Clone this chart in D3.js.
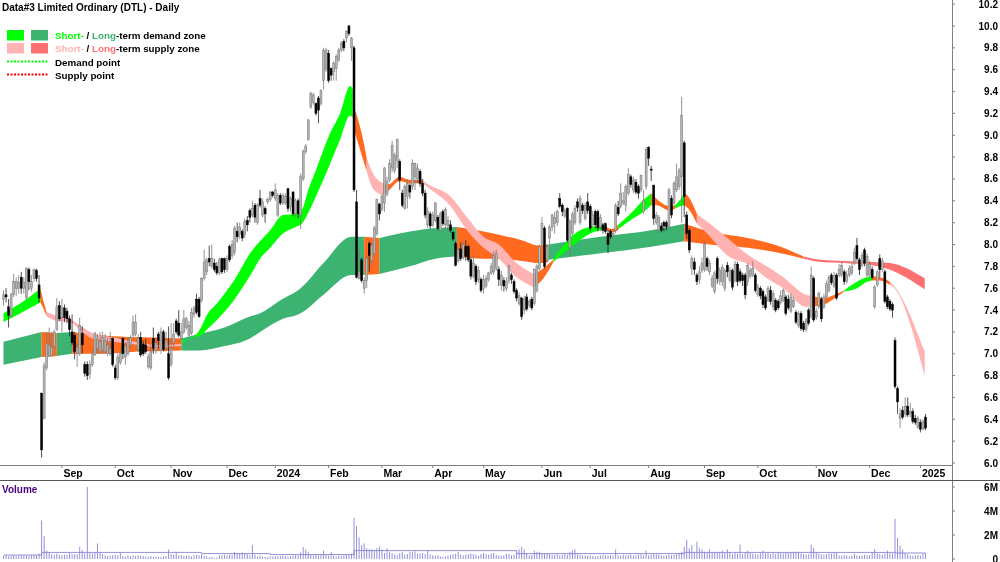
<!DOCTYPE html>
<html>
<head>
<meta charset="utf-8">
<script src="https://cdnjs.cloudflare.com/ajax/libs/d3/7.8.5/d3.min.js"></script>
<style>
html,body{margin:0;padding:0;background:#fff}
svg{display:block;filter:blur(.35px)}
text{font-family:"Liberation Sans",Arial,sans-serif;font-weight:bold;font-size:10px;fill:#000}
.months text{font-size:10.5px}
.legend text{font-size:9.8px}
</style>
</head>
<body>
<svg id="c" width="1000" height="562"></svg>
<script>
const titleText = "Data#3 Limited Ordinary (DTL) - Daily";
const priceTicks = [6.0,6.2,6.4,6.6,6.8,7.0,7.2,7.4,7.6,7.8,8.0,8.2,8.4,8.6,8.8,9.0,9.2,9.4,9.6,9.8,10.0,10.2];
const volumeTicks = [0,2,4,6];
const volumeTickLabels = ["0","2M","4M","6M"];
const monthLabels = ["Sep","Oct","Nov","Dec","2024","Feb","Mar","Apr","May","Jun","Jul","Aug","Sep","Oct","Nov","Dec","2025"];
const monthBars = [23,44,66,88,107,128,149,169,189,212,231,254,276,297,320,341,361];

const opens = [
7.50,7.54,7.43,7.35,7.54,7.60,7.60,7.70,7.60,7.51,
7.77,7.60,7.69,7.76,7.63,6.64,6.41,6.87,6.98,6.98,
7.07,7.22,7.44,7.33,7.42,7.39,7.32,7.20,7.17,7.00,
7.00,7.19,6.90,6.90,6.82,6.90,6.99,7.05,7.02,7.03,
7.02,7.00,7.00,7.14,6.87,6.78,6.92,7.14,6.97,7.00,
7.08,7.17,7.18,7.04,7.15,7.09,7.08,6.88,6.87,7.14,
7.03,7.18,7.03,7.20,7.05,7.00,6.90,7.10,7.30,7.28,
7.14,7.20,7.24,7.17,7.19,7.36,7.50,7.50,7.49,7.69,
7.75,7.87,7.80,7.83,7.80,7.74,7.87,7.87,7.77,7.98,
7.90,7.93,8.12,8.09,8.12,8.09,8.22,8.31,8.27,8.36,
8.20,8.42,8.27,8.33,8.39,8.41,8.48,8.42,8.27,8.45,
8.38,8.38,8.51,8.35,8.48,8.28,8.40,8.27,8.60,8.85,
8.96,9.26,9.30,9.29,9.34,9.29,9.50,9.60,9.75,9.61,
9.58,9.61,9.69,9.78,9.86,9.89,10.0,9.80,9.80,8.39,
7.69,7.86,7.60,7.67,8.01,7.85,7.92,8.10,8.37,8.32,
8.38,8.46,8.59,8.70,8.68,8.77,8.76,8.47,8.33,8.44,
8.54,8.53,8.62,8.60,8.67,8.56,8.47,8.18,8.28,8.18,
8.22,8.25,8.13,8.30,8.18,8.17,8.18,8.11,8.01,7.85,
7.96,7.88,7.98,7.98,7.86,7.71,7.80,7.68,7.68,7.60,
7.62,7.68,7.74,7.75,7.78,7.77,7.63,7.67,7.60,7.67,
7.72,7.66,7.58,7.46,7.51,7.40,7.52,7.44,7.50,7.46,
7.58,7.78,8.00,8.15,7.86,8.06,8.16,8.19,8.20,8.42,
8.36,8.26,8.33,7.97,8.10,8.20,8.39,8.20,8.36,8.24,
8.39,8.35,8.18,8.30,8.30,8.16,8.18,8.19,8.10,8.12,
8.08,8.13,8.34,8.35,8.38,8.36,8.47,8.62,8.50,8.57,
8.53,8.50,8.30,8.53,8.89,8.69,8.54,8.20,8.13,8.17,
8.20,8.20,8.16,8.42,8.38,8.50,8.53,8.62,8.93,8.27,
8.13,7.78,7.84,7.72,7.68,7.76,7.77,7.87,7.75,7.62,
7.57,7.87,7.66,7.66,7.60,7.81,7.67,7.76,7.67,7.82,
7.75,7.72,7.72,7.66,7.71,7.72,7.72,7.54,7.60,7.57,
7.52,7.49,7.58,7.43,7.49,7.48,7.47,7.49,7.52,7.50,
7.39,7.43,7.38,7.26,7.37,7.28,7.22,7.40,7.34,7.69,
7.33,7.43,7.50,7.43,7.52,7.58,7.72,7.62,7.72,7.72,
7.72,7.75,7.66,7.72,7.74,7.83,7.99,7.86,7.81,7.95,
7.72,7.72,7.77,7.43,7.63,7.87,7.77,7.75,7.52,7.48,
7.45,7.12,6.68,6.41,6.48,6.45,6.52,6.45,6.47,6.41,
6.33,6.37,6.31,6.42];

const highs = [
7.58,7.60,7.50,7.56,7.73,7.70,7.72,7.75,7.70,7.79,
7.79,7.72,7.78,7.78,7.72,6.64,6.92,7.20,7.24,7.20,
7.22,7.51,7.48,7.50,7.45,7.42,7.35,7.36,7.20,7.10,
7.33,7.25,6.93,6.93,6.94,7.04,7.20,7.18,7.20,7.20,
7.18,7.15,7.20,7.15,6.90,7.00,7.05,7.15,7.10,7.15,
7.17,7.35,7.36,7.18,7.20,7.12,7.14,7.00,7.10,7.24,
7.15,7.20,7.24,7.22,7.20,7.25,7.28,7.28,7.32,7.40,
7.28,7.40,7.34,7.30,7.42,7.44,7.55,7.52,7.70,7.95,
7.88,7.99,8.00,7.87,7.84,7.88,7.88,7.88,7.90,8.00,
8.04,8.17,8.20,8.20,8.14,8.24,8.26,8.33,8.40,8.38,
8.38,8.50,8.42,8.35,8.43,8.49,8.49,8.56,8.47,8.47,
8.47,8.47,8.52,8.44,8.49,8.42,8.42,8.65,8.87,8.92,
9.15,9.40,9.39,9.30,9.36,9.42,9.80,9.80,9.78,9.62,
9.68,9.74,9.80,9.86,9.88,9.96,10.01,9.90,9.82,8.50,
7.95,7.88,7.70,7.90,8.03,8.02,8.17,8.42,8.38,8.46,
8.71,8.62,8.78,8.95,8.84,8.97,8.78,8.50,8.55,8.60,
8.56,8.78,8.75,8.74,8.69,8.60,8.50,8.34,8.30,8.30,
8.39,8.27,8.30,8.32,8.34,8.26,8.22,8.12,8.03,7.98,
8.02,8.02,8.04,8.00,7.88,7.90,7.82,7.80,7.70,7.72,
7.72,7.75,7.83,7.94,7.95,7.80,7.76,7.70,7.70,7.82,
7.74,7.68,7.60,7.56,7.52,7.53,7.55,7.50,7.52,7.78,
7.82,8.00,8.25,8.17,8.00,8.18,8.28,8.30,8.32,8.47,
8.38,8.33,8.34,8.23,8.30,8.36,8.42,8.45,8.38,8.38,
8.47,8.37,8.31,8.32,8.32,8.28,8.20,8.20,8.13,8.14,
8.13,8.38,8.40,8.56,8.48,8.55,8.70,8.64,8.62,8.60,
8.55,8.64,8.50,8.89,8.90,8.72,8.55,8.30,8.27,8.20,
8.22,8.22,8.52,8.45,8.58,8.74,8.70,9.35,8.95,8.30,
8.15,7.90,7.88,7.74,7.80,7.88,8.03,7.89,7.86,7.72,
7.76,7.89,7.79,7.82,7.78,7.84,7.79,7.78,7.85,7.84,
7.78,7.74,7.74,7.83,7.79,7.85,7.74,7.64,7.62,7.59,
7.54,7.62,7.62,7.58,7.51,7.50,7.58,7.60,7.54,7.54,
7.55,7.52,7.40,7.39,7.39,7.30,7.33,7.42,7.80,7.71,
7.42,7.57,7.52,7.55,7.67,7.72,7.74,7.75,7.74,7.82,
7.84,7.77,7.76,7.81,7.83,7.97,8.06,7.88,7.93,7.97,
7.92,7.85,7.80,7.63,7.77,7.91,7.88,7.77,7.54,7.50,
7.47,7.15,6.70,6.50,6.52,6.60,6.60,6.55,6.50,6.44,
6.43,6.40,6.40,6.45];

const lows = [
7.44,7.47,7.24,7.33,7.52,7.53,7.55,7.55,7.55,7.49,
7.58,7.57,7.66,7.66,7.47,6.05,6.40,6.85,6.97,6.97,
7.05,7.21,7.30,7.20,7.29,7.28,7.16,7.08,6.95,6.88,
6.98,7.00,6.79,6.76,6.77,6.88,6.98,7.00,7.00,7.00,
7.00,6.98,6.98,6.88,6.76,6.76,6.90,6.95,6.90,6.98,
7.05,7.15,7.16,7.02,6.97,6.98,7.00,6.86,6.85,7.00,
7.00,7.05,7.00,7.02,7.02,6.76,6.88,7.05,7.18,7.15,
7.12,7.18,7.22,7.15,7.17,7.33,7.36,7.33,7.47,7.67,
7.72,7.80,7.78,7.75,7.72,7.72,7.73,7.74,7.75,7.84,
7.87,7.90,8.02,8.05,8.03,8.06,8.12,8.20,8.25,8.20,
8.18,8.34,8.25,8.20,8.37,8.39,8.43,8.40,8.25,8.36,
8.36,8.36,8.30,8.30,8.26,8.25,8.24,8.14,8.58,8.83,
8.95,9.24,9.28,9.18,9.11,9.27,9.42,9.58,9.48,9.50,
9.50,9.50,9.67,9.76,9.77,9.85,9.91,9.68,8.48,7.69,
7.68,7.65,7.55,7.60,7.75,7.80,7.90,8.08,8.22,8.30,
8.30,8.44,8.57,8.66,8.65,8.70,8.50,8.34,8.32,8.33,
8.42,8.50,8.50,8.56,8.53,8.44,8.24,8.15,8.14,8.16,
8.20,8.13,8.12,8.17,8.14,8.12,8.11,8.03,7.80,7.83,
7.85,7.86,7.85,7.84,7.68,7.69,7.63,7.65,7.56,7.55,
7.60,7.66,7.72,7.72,7.76,7.62,7.58,7.57,7.57,7.64,
7.64,7.55,7.48,7.44,7.31,7.36,7.39,7.42,7.40,7.44,
7.56,7.76,7.98,7.78,7.84,8.00,8.12,8.10,8.17,8.33,
8.26,8.24,8.02,7.89,8.08,8.18,8.30,8.18,8.28,8.22,
8.28,8.12,8.16,8.15,8.12,8.12,8.10,8.10,7.92,8.05,
8.06,8.10,8.26,8.33,8.36,8.30,8.45,8.52,8.47,8.46,
8.42,8.48,8.28,8.50,8.72,8.58,8.18,8.18,8.11,8.11,
8.12,8.13,8.14,8.24,8.36,8.48,8.50,8.20,8.25,8.05,
7.92,7.72,7.72,7.63,7.64,7.74,7.75,7.76,7.72,7.60,
7.55,7.64,7.63,7.62,7.57,7.70,7.65,7.58,7.65,7.62,
7.65,7.62,7.50,7.62,7.69,7.70,7.56,7.52,7.50,7.42,
7.40,7.47,7.45,7.40,7.38,7.40,7.45,7.47,7.35,7.40,
7.37,7.42,7.27,7.24,7.21,7.20,7.20,7.26,7.32,7.29,
7.31,7.41,7.29,7.41,7.50,7.56,7.63,7.60,7.49,7.70,
7.70,7.63,7.64,7.70,7.72,7.81,7.85,7.72,7.79,7.80,
7.70,7.70,7.68,7.41,7.61,7.70,7.75,7.46,7.41,7.39,
7.33,6.68,6.45,6.32,6.40,6.42,6.42,6.42,6.36,6.35,
6.31,6.28,6.30,6.30];

const closes = [
7.54,7.52,7.35,7.54,7.66,7.66,7.65,7.60,7.65,7.78,
7.66,7.66,7.77,7.69,7.51,6.12,6.89,7.09,7.08,7.06,
7.20,7.43,7.32,7.42,7.33,7.32,7.22,7.10,7.02,7.06,
7.26,7.08,6.82,6.80,6.90,6.99,7.19,7.13,7.11,7.15,
7.12,7.08,7.05,6.90,6.78,6.97,7.00,7.00,7.07,7.10,
7.15,7.29,7.29,7.14,6.99,7.00,7.02,6.97,7.03,7.05,
7.10,7.12,7.20,7.04,7.12,6.78,7.05,7.18,7.20,7.17,
7.20,7.32,7.32,7.26,7.38,7.42,7.38,7.34,7.69,7.84,
7.86,7.84,7.87,7.77,7.74,7.86,7.75,7.77,7.87,7.86,
8.00,8.15,8.07,8.16,8.06,8.21,8.18,8.25,8.33,8.25,
8.36,8.36,8.39,8.28,8.41,8.48,8.45,8.50,8.45,8.38,
8.45,8.44,8.33,8.42,8.28,8.40,8.28,8.62,8.85,8.90,
9.14,9.38,9.37,9.20,9.23,9.41,9.78,9.78,9.50,9.55,
9.66,9.72,9.78,9.84,9.80,9.95,9.93,9.89,8.50,7.70,
7.75,7.67,7.67,7.87,7.90,7.99,8.15,8.41,8.28,8.44,
8.70,8.58,8.74,8.91,8.82,8.96,8.59,8.36,8.53,8.56,
8.48,8.74,8.74,8.70,8.56,8.47,8.27,8.30,8.17,8.27,
8.38,8.15,8.28,8.19,8.32,8.22,8.13,8.05,7.81,7.95,
7.87,8.00,7.89,7.86,7.71,7.83,7.66,7.76,7.58,7.68,
7.69,7.74,7.80,7.90,7.92,7.68,7.72,7.62,7.66,7.80,
7.68,7.57,7.51,7.53,7.34,7.50,7.41,7.48,7.42,7.77,
7.80,7.98,8.19,7.80,7.98,8.16,8.27,8.25,8.30,8.35,
8.30,8.31,8.04,8.21,8.28,8.33,8.34,8.42,8.31,8.36,
8.31,8.15,8.27,8.18,8.15,8.25,8.13,8.12,8.00,8.07,
8.10,8.36,8.28,8.47,8.40,8.53,8.64,8.55,8.59,8.48,
8.47,8.63,8.40,8.87,8.79,8.68,8.24,8.27,8.25,8.13,
8.17,8.16,8.50,8.27,8.56,8.62,8.68,9.18,8.44,8.10,
7.95,7.87,7.77,7.66,7.75,7.83,8.00,7.80,7.83,7.69,
7.74,7.69,7.76,7.79,7.76,7.75,7.76,7.61,7.82,7.66,
7.67,7.67,7.54,7.81,7.76,7.78,7.58,7.61,7.53,7.45,
7.42,7.60,7.48,7.55,7.40,7.42,7.53,7.58,7.37,7.42,
7.52,7.49,7.29,7.37,7.23,7.22,7.31,7.28,7.72,7.31,
7.39,7.55,7.32,7.52,7.64,7.70,7.65,7.72,7.51,7.77,
7.81,7.66,7.72,7.78,7.80,7.93,7.87,7.77,7.90,7.83,
7.89,7.82,7.70,7.61,7.75,7.77,7.85,7.48,7.43,7.41,
7.40,6.70,6.56,6.45,6.42,6.52,6.44,6.47,6.38,6.37,
6.41,6.31,6.38,6.32];

const volumes = [
0.25,0.30,0.22,0.28,0.30,0.24,0.26,0.33,0.28,0.30,
0.26,0.35,0.30,0.32,0.45,3.20,1.90,0.70,0.50,0.40,
0.35,0.45,0.35,0.30,0.35,0.35,0.55,0.42,0.40,0.40,
1.00,0.75,0.45,6.00,0.50,0.45,0.55,1.30,0.55,0.40,
0.30,0.25,0.30,0.32,0.35,0.30,0.50,0.25,0.18,0.30,
0.22,0.30,0.25,0.32,0.28,0.25,0.22,0.20,0.25,0.18,
0.22,0.20,0.18,0.22,0.25,0.80,0.40,0.35,0.60,0.30,
0.32,0.25,0.28,0.30,0.22,0.30,0.35,0.32,0.40,0.25,
0.22,0.15,0.18,0.10,0.12,0.30,0.32,0.35,0.30,0.35,
0.35,0.60,0.45,0.50,0.55,0.45,0.40,0.30,1.15,0.35,
0.20,0.30,0.22,0.18,0.15,0.22,0.20,0.25,0.22,0.25,
0.28,0.25,0.20,0.22,0.28,0.30,0.30,0.55,1.00,0.80,
0.60,0.35,0.30,0.35,0.30,0.40,0.70,0.40,0.30,0.60,
0.30,0.20,0.30,0.25,0.30,0.35,0.32,0.45,3.45,2.75,
1.80,1.15,1.30,0.90,0.80,0.80,0.70,0.90,1.05,0.80,
0.50,0.90,0.60,0.50,0.40,0.35,0.50,0.60,0.35,0.40,
0.60,0.60,0.65,0.40,0.45,0.50,0.40,0.70,0.40,0.30,
0.25,0.30,0.22,0.18,0.22,0.30,0.35,0.40,0.45,0.60,
0.35,0.30,0.35,0.40,0.45,0.40,0.35,0.25,0.40,0.50,
0.40,0.35,0.45,0.50,0.35,0.30,0.25,0.30,0.45,0.40,
0.30,0.35,0.70,0.80,1.00,0.80,0.45,0.30,0.35,0.70,
0.60,0.60,0.45,0.40,0.45,0.40,0.35,0.35,0.40,0.30,
0.35,0.40,0.35,0.60,0.70,0.80,0.40,0.35,0.30,0.28,
0.25,0.30,0.25,0.22,0.25,0.30,0.35,0.30,0.28,0.32,
0.30,0.80,0.30,0.28,0.35,0.30,0.32,0.35,0.28,0.30,
0.35,0.40,0.30,0.70,0.32,0.35,0.45,0.38,0.35,0.30,
0.28,0.30,0.35,0.32,0.35,0.40,0.45,0.60,1.00,1.60,
0.90,1.15,0.60,1.45,0.90,0.80,0.60,0.55,0.80,0.50,
0.55,0.60,0.55,0.70,0.50,0.80,0.55,0.40,0.50,0.45,
1.20,0.40,0.50,0.70,0.50,0.45,0.40,0.38,0.50,0.70,
0.45,0.50,0.40,0.50,0.45,0.55,0.50,0.45,0.55,0.50,
0.55,0.60,0.55,0.60,0.45,0.40,0.35,0.40,1.20,0.95,
0.55,0.45,0.40,0.35,0.40,0.50,0.45,0.55,0.55,0.30,
0.28,0.35,0.30,0.25,0.30,0.45,0.30,0.25,0.30,0.35,
0.30,0.32,0.55,0.85,0.45,0.40,0.35,0.45,0.70,0.50,
0.45,3.35,1.75,1.10,0.80,0.50,0.40,0.30,0.25,0.30,
0.35,0.30,0.45,0.50];

const volumeAverageBars = [0,15,78,105,138,202,268,351,363];
const volumeAverageValues = [0.33,0.55,0.45,0.37,0.70,0.45,0.55,0.50,0.50];

const longZones = [
["demand",[[0,7.11,6.90],[15,7.20,6.97]]],
["mixed",[[15,7.20,6.97],[21,7.19,6.98]]],
["demand",[[21,7.19,6.98],[27,7.20,7.00]]],
["mixed",[[27,7.20,7.00],[38,7.17,7.00],[53,7.15,7.02]]],
["demand",[[53,7.15,7.02],[54.5,7.15,7.02]]],
["mixed",[[54.5,7.15,7.02],[70,7.14,7.03]]],
["demand",[[70,7.14,7.03],[77,7.18,7.03],[87,7.24,7.07],[97,7.34,7.14],[101,7.37,7.20],[109,7.49,7.31],[117,7.60,7.37],[126,7.83,7.54],[137,8.07,7.72],[142,8.07,7.72]]],
["mixed",[[142,8.07,7.72],[148,8.06,7.73]]],
["demand",[[148,8.06,7.73],[160,8.12,7.80],[170,8.15,7.87],[178.5,8.16,7.89]]],
["mixed",[[178.5,8.16,7.89],[189,8.12,7.87],[195,8.09,7.87],[204,8.04,7.85],[211,7.99,7.83],[214.5,8.00,7.84]]],
["demand",[[214.5,8.00,7.86],[235,8.07,7.92],[255,8.13,7.98],[268,8.19,8.03]]],
["mixed",[[268,8.19,8.03],[278,8.12,8.00],[293,8.06,7.97],[306,7.98,7.92],[315,7.89,7.87]]],
["supply",[[315,7.89,7.87],[322,7.86,7.84],[331,7.85,7.83],[342,7.84,7.81],[349,7.83,7.77],[362.7,7.69,7.59]]]
];

const shortZones = [
["demand",[[0,7.37,7.29],[13,7.57,7.45],[14.5,7.60,7.47]]],
["mixed",[[14.5,7.60,7.47],[16,7.46,7.40],[17,7.38,7.34]]],
["supply",[[17,7.38,7.34],[21,7.35,7.30],[26,7.32,7.29],[30,7.26,7.22],[35,7.19,7.14],[43,7.15,7.11],[54,7.10,7.08],[60,7.08,7.06],[70,7.09,7.07]]],
["demand",[[70,7.12,7.10],[75,7.16,7.15],[78,7.25,7.17],[80,7.35,7.22],[84,7.46,7.31],[91,7.68,7.50],[98,7.95,7.75],[101,8.03,7.87],[105,8.13,7.97],[110,8.27,8.10],[115,8.28,8.16],[117.5,8.32,8.19],[120,8.50,8.29],[123,8.68,8.44],[128.6,9.02,8.74],[132.5,9.20,8.96],[136.5,9.45,9.18],[137.5,9.42,9.16]]],
["mixed",[[138,9.26,9.05],[141,9.02,8.82],[143,8.79,8.67]]],
["supply",[[143,8.79,8.67],[145.5,8.65,8.51],[149.5,8.56,8.45]]],
["mixed",[[149.5,8.56,8.45],[151.5,8.55,8.49],[156,8.62,8.58],[160,8.59,8.56],[165,8.59,8.56]]],
["supply",[[165,8.59,8.56],[166.6,8.56,8.53],[176,8.44,8.35],[182.5,8.25,8.13],[189,8.07,7.97],[195,8.00,7.87],[202,7.83,7.70],[208.6,7.73,7.61]]],
["mixed",[[208.6,7.73,7.61],[210.6,7.75,7.64],[214,7.81,7.74],[216.5,7.86,7.84]]],
["demand",[[216.5,7.86,7.84],[223,8.06,7.97],[227,8.13,8.04],[231,8.16,8.10],[235,8.17,8.13],[237,8.17,8.14]]],
["mixed",[[237,8.17,8.14],[239.5,8.14,8.11],[242,8.18,8.13]]],
["demand",[[242,8.18,8.14],[248,8.31,8.24],[252,8.41,8.30],[255,8.47,8.36]]],
["mixed",[[255,8.47,8.36],[257,8.42,8.36],[262.4,8.35,8.31],[264.4,8.36,8.33]]],
["demand",[[264.4,8.36,8.33],[266.4,8.41,8.35],[268,8.47,8.36]]],
["mixed",[[268,8.47,8.36],[269.6,8.44,8.33],[273,8.28,8.19]]],
["supply",[[273,8.28,8.19],[277,8.21,8.10],[285,8.06,7.90],[294,7.89,7.81],[300.5,7.80,7.69],[307,7.70,7.60],[316,7.54,7.43],[318,7.53,7.43]]],
["mixed",[[318,7.53,7.43],[323,7.51,7.45],[328,7.55,7.52],[331,7.58,7.57]]],
["demand",[[331,7.58,7.57],[336,7.66,7.60],[340,7.70,7.66],[342,7.71,7.67]]],
["mixed",[[342,7.71,7.67],[345,7.70,7.67],[349,7.66,7.63]]],
["supply",[[349,7.66,7.63],[350.3,7.63,7.61],[362.7,7.02,6.80]]]
];

const longColors = {demand:"#3cb371",supply:"#ff7070",mixed:"#ff6a1f"};
const shortColors = {demand:"#00ff00",supply:"#ffb3b3",mixed:"#ff6a1f"};

const svg = d3.select("#c");
const x = d3.scaleLinear().domain([0,363]).range([3.5,925.5]);
const y = d3.scaleLinear().domain([6,10]).range([463,26]);
const yv = d3.scaleLinear().domain([0,6]).range([559,487]);

function drawZones(zones, colors){
  const area = d3.area().x(d=>x(d[0])).y0(d=>y(d[2])).y1(d=>y(d[1])).curve(d3.curveMonotoneX);
  svg.append("g").selectAll("path").data(zones).join("path")
    .attr("d",z=>area(z[1])).attr("fill",z=>colors[z[0]]);
}
drawZones(longZones,longColors);
drawZones(shortZones,shortColors);

const candles = d3.range(opens.length);
const cg = svg.append("g");
cg.selectAll("line").data(candles).join("line")
  .attr("x1",i=>x(i)).attr("x2",i=>x(i)).attr("y1",i=>y(highs[i])).attr("y2",i=>y(lows[i]))
  .attr("stroke",i=>closes[i]>=opens[i]?"#777":"#222").attr("stroke-width",.8);
cg.selectAll("rect").data(candles).join("rect")
  .attr("x",i=>x(i)-1).attr("width",2)
  .attr("y",i=>y(Math.max(opens[i],closes[i])))
  .attr("height",i=>Math.max(.8,Math.abs(y(opens[i])-y(closes[i]))))
  .attr("fill",i=>closes[i]>=opens[i]?"#b5b5b5":"#000")
  .attr("stroke",i=>closes[i]>=opens[i]?"#777":"#000").attr("stroke-width",.5);

// frame
const frame = svg.append("g").attr("stroke","#808080").attr("fill","none");
frame.append("line").attr("x1",952.5).attr("x2",952.5).attr("y1",0).attr("y2",562);
frame.append("line").attr("x1",0).attr("x2",952.5).attr("y1",465.5).attr("y2",465.5);
frame.append("line").attr("x1",0).attr("x2",1000).attr("y1",480.5).attr("y2",480.5).attr("stroke","#555");

// price axis
const ax = svg.append("g");
ax.selectAll("line").data(priceTicks).join("line")
  .attr("x1",952).attr("x2",955).attr("y1",d=>y(d)).attr("y2",d=>y(d)).attr("stroke","#808080");
ax.selectAll("text").data(priceTicks).join("text")
  .attr("x",998).attr("y",d=>y(d)+3.5).attr("text-anchor","end")
  .text(d=>d.toFixed(1));

// volume axis
const vx = svg.append("g");
vx.selectAll("line").data(volumeTicks).join("line")
  .attr("x1",952).attr("x2",955).attr("y1",d=>yv(d)).attr("y2",d=>yv(d)).attr("stroke","#808080");
vx.selectAll("text").data(volumeTicks).join("text")
  .attr("x",998).attr("y",d=>yv(d)+3.5).attr("text-anchor","end")
  .text((d,i)=>volumeTickLabels[i]);

// month axis
const mx = svg.append("g").attr("class","months");
mx.selectAll("line").data(monthBars).join("line")
  .attr("x1",d=>x(d)).attr("x2",d=>x(d)).attr("y1",465).attr("y2",468).attr("stroke","#808080");
mx.selectAll("text").data(monthBars).join("text")
  .attr("x",d=>x(d)+1.5).attr("y",477).text((d,i)=>monthLabels[i]);

// volume
svg.append("g").selectAll("line").data(candles).join("line")
  .attr("x1",i=>x(i)).attr("x2",i=>x(i)).attr("y1",yv(0)).attr("y2",i=>yv(volumes[i]))
  .attr("stroke","#8585d6").attr("stroke-width",.9);
svg.append("path")
  .attr("d",d3.line().x(d=>x(d)).y((d,i)=>yv(volumeAverageValues[i])).curve(d3.curveStepAfter)(volumeAverageBars))
  .attr("fill","none").attr("stroke","#8585d6").attr("stroke-width",.9);
svg.append("text").attr("x",2).attr("y",493).style("fill","#4b0082").text("Volume");

// title and legend
svg.append("text").attr("x",2).attr("y",10.5).text(titleText);
const lg = svg.append("g").attr("class","legend");
[[7,30,"#00ff00"],[31,30,"#3cb371"],[7,43,"#ffb3b3"],[31,43,"#ff7070"]].forEach(s=>{
  lg.append("rect").attr("x",s[0]).attr("y",s[1]).attr("width",17).attr("height",10.5).attr("fill",s[2]);
});
lg.append("line").attr("x1",7).attr("x2",48).attr("y1",61.5).attr("y2",61.5)
  .attr("stroke","#00ff00").attr("stroke-width",2).attr("stroke-dasharray","2 1.5");
lg.append("line").attr("x1",7).attr("x2",48).attr("y1",74.5).attr("y2",74.5)
  .attr("stroke","#ff0000").attr("stroke-width",2).attr("stroke-dasharray","2 1.5");
function legendRow(yp, parts){
  const t = lg.append("text").attr("x",55).attr("y",yp);
  parts.forEach(p=>{
    const s=t.append("tspan").text(p[0]);
    if(p[1]) s.style("fill",p[1]);
  });
}
legendRow(39,[["Short-","#00ff00"],[" / "],["Long","#3cb371"],["-term demand zone"]]);
legendRow(52,[["Short-","#ffb3b3"],[" / "],["Long","#ff7070"],["-term supply zone"]]);
legendRow(65.5,[["Demand point"]]);
legendRow(78.5,[["Supply point"]]);
</script>
</body>
</html>
